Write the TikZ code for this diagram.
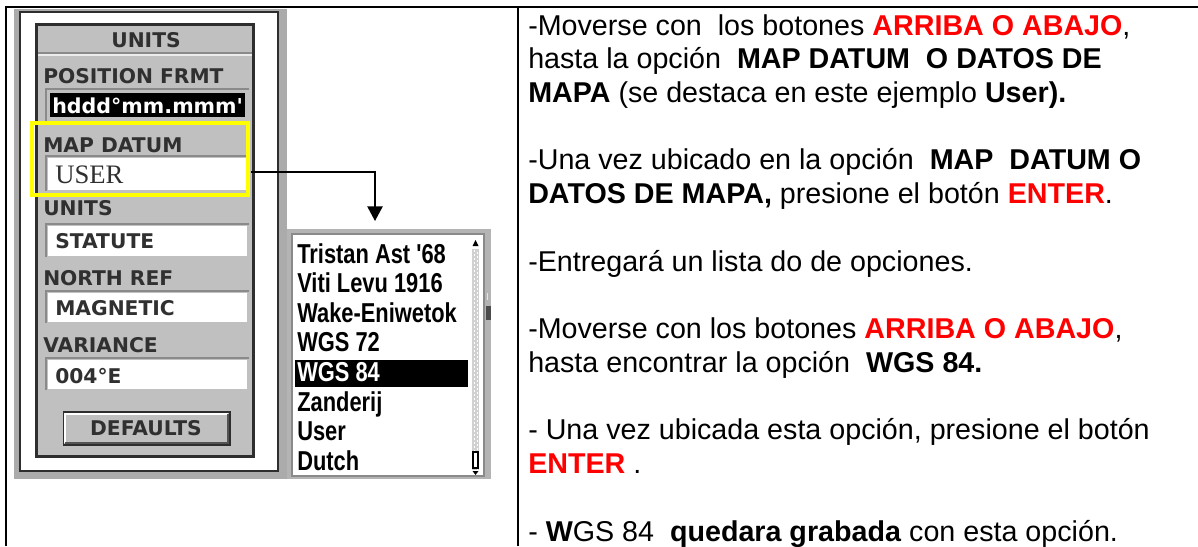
\documentclass[tikz,border=0pt]{standalone}
\usepackage{fontspec}
\setmainfont{Liberation Sans}
\newfontfamily\dvs{DejaVu Sans}
\newfontfamily\lserif{Liberation Serif}
\usepackage{graphicx}
\usetikzlibrary{arrows.meta}
\definecolor{outergray}{HTML}{ABABAB}
\definecolor{panelgray}{HTML}{C0C0C0}
\definecolor{darkline}{HTML}{2E2E2E}
\definecolor{labelcol}{HTML}{303030}
\definecolor{bevelgray}{HTML}{8A8A8A}
\definecolor{listgray}{HTML}{B4B4B4}
\definecolor{hiyellow}{HTML}{FFFF00}
\definecolor{pureRed}{HTML}{FF0000}
\begin{document}
\begin{tikzpicture}[x=0.75pt,y=-0.75pt,
  tbl/.style={line width=1.5pt,black},
  lbl/.style={anchor=base west,inner sep=0,text=labelcol,font=\dvs\bfseries\fontsize{15.2pt}{17pt}\selectfont},
  val/.style={anchor=base west,inner sep=0,text=labelcol,font=\dvs\bfseries\fontsize{15.2pt}{17pt}\selectfont},
  fieldbox/.style={fill=white},
  litem/.style={anchor=base west,inner sep=0,font=\bfseries\fontsize{20.5pt}{22pt}\selectfont},
  txt/.style={anchor=base west,inner sep=0,font=\fontsize{21.5pt}{25pt}\selectfont},
  conn/.style={line width=1.1pt,-{Triangle[width=11.5pt,length=11pt]}},
]
\useasboundingbox (0,0) rectangle (1198,546);
% table frame
\draw[tbl] (5,7) -- (1198,7);
\draw[tbl] (6,6) -- (6,546);
\draw[tbl] (518,6) -- (518,546);

% screenshot background
\fill[outergray] (14,9) rectangle (287,479);
\draw[fill=white,draw=darkline,line width=0.8pt] (20,12) rectangle (278,471);
\draw[fill=panelgray,draw=darkline,line width=2.25pt] (36.5,24.5) rectangle (253.5,456.5);

% title
\node[lbl,anchor=base] (title) at (146,47) {UNITS};
\draw[bevelgray,line width=1pt] (38,53) -- (252,53);
\draw[white!85!gray,line width=1pt] (38,55) -- (252,55);

% position format
\node[lbl] (lblpos) at (43,83) {POSITION FRMT};
\draw[bevelgray,line width=1.2pt] (46,121) -- (46,89) -- (249,89);
\fill[black] (50,93) rectangle (245,117);
\node[anchor=base west,inner sep=0,text=white,font=\dvs\bfseries\fontsize{14pt}{16pt}\selectfont] (posval) at (52,113) {\resizebox{143pt}{!}{hddd°mm.mmm\textquotesingle}};

% map datum
\node[lbl] (lbldatum) at (43,152) {MAP DATUM};
\draw[bevelgray,line width=1.2pt] (46,191) -- (46,156) -- (249,156);
\fill[fieldbox] (48,158) rectangle (247,190);
\node[anchor=base west,inner sep=0,text=labelcol,font=\lserif\fontsize{20pt}{22pt}\selectfont] (datumval) at (55,183) {USER};
\node[draw=hiyellow,line width=2.4pt,minimum width=162pt,minimum height=54pt,inner sep=0] (datumbox) at (140,159) {};

% units
\node[lbl] (lblunits) at (43,215) {UNITS};
\draw[bevelgray,line width=1.2pt] (46,257) -- (46,224) -- (249,224);
\fill[fieldbox] (48,226) rectangle (247,256);
\node[val] (unitsval) at (55,248) {STATUTE};

% north ref
\node[lbl] (lblnorth) at (43,285) {NORTH REF};
\draw[bevelgray,line width=1.2pt] (46,323) -- (46,291) -- (249,291);
\fill[fieldbox] (48,293) rectangle (247,322);
\node[val] (northval) at (55,315) {MAGNETIC};

% variance
\node[lbl] (lblvar) at (43,352) {VARIANCE};
\draw[bevelgray,line width=1.2pt] (46,390) -- (46,358) -- (249,358);
\fill[fieldbox] (48,360) rectangle (247,389);
\node[val] (varval) at (55,383) {004°E};

% defaults button
\node[draw=darkline,line width=1pt,fill=panelgray,minimum width=125pt,minimum height=24.75pt,inner sep=0] (defaults) at (146.5,428.5) {};
\draw[white,line width=1.5pt] (65,443) -- (65,414) -- (228,414);
\draw[bevelgray!60!black,line width=1.5pt] (65,443) -- (228,443) -- (228,414);
\node[lbl,anchor=base] (deftext) at (146,435) {DEFAULTS};

% list panel
\fill[listgray] (287,229) rectangle (491,479);
\draw[bevelgray,line width=0.8pt,fill=white] (292,234) rectangle (484,476);
\fill[black!70] (486,306) rectangle (491,320);
\draw[white!80!gray,line width=0.6pt] (487,293) -- (487,300);
% scrollbar
\fill[black!18] (472,249) rectangle (479,470);
\foreach \yy in {250,254,...,468} {\fill[white] (473.5,\yy) rectangle (475,\yy+1.5); \fill[white] (476.5,\yy+2) rectangle (478,\yy+3.5);}
\fill[black] (475.5,240) -- (478.5,246) -- (472.5,246) -- cycle;
\draw[black,line width=0.8pt,fill=white] (473,452) rectangle (478,468);
\fill[black] (472.5,471) -- (478.5,471) -- (475.5,475) -- cycle;
% highlight
\fill[black] (295,360) rectangle (468,387);
\node[litem] (li1) at (297,263) {\scalebox{0.8}[1]{Tristan Ast \textquotesingle68}};
\node[litem] (li2) at (297,292.6) {\scalebox{0.8}[1]{Viti Levu 1916}};
\node[litem] (li3) at (297,322.2) {\scalebox{0.8}[1]{Wake-Eniwetok}};
\node[litem] (li4) at (297,351.8) {\scalebox{0.8}[1]{WGS 72}};
\node[litem,text=white] (li5) at (297,381.4) {\scalebox{0.8}[1]{WGS 84}};
\node[litem] (li6) at (297,411) {\scalebox{0.8}[1]{Zanderij}};
\node[litem] (li7) at (297,440.6) {\scalebox{0.8}[1]{User}};
\node[litem] (li8) at (297,470.2) {\scalebox{0.8}[1]{Dutch}};

% connector
\coordinate (cstart) at (250.5,172);
\coordinate (aend) at (375,221);
\draw[conn] (cstart) -| (aend);

% right column text
\node[txt] (t0) at (528,35) {-Moverse con~ los botones \textcolor{pureRed}{\bfseries ARRIBA O ABAJO},};
\node[txt] (t1) at (528,68.7) {hasta la opción~ \textbf{MAP DATUM~ O DATOS DE}};
\node[txt] (t2) at (528,102.5) {\textbf{MAPA} (se destaca en este ejemplo \textbf{User).}};
\node[txt] (t4) at (528,169.9) {-Una vez ubicado en la opción~ \textbf{MAP~ DATUM O}};
\node[txt] (t5) at (528,203.7) {\textbf{DATOS DE MAPA,} presione el botón \textcolor{pureRed}{\textbf{ENTER}}.};
\node[txt] (t7) at (528,271.1) {-Entregará un lista do de opciones.};
\node[txt] (t9) at (528,338.6) {-Moverse con los botones \textcolor{pureRed}{\textbf{ARRIBA O ABAJO}},};
\node[txt] (t10) at (528,372.3) {hasta encontrar la opción~ \textbf{WGS 84.}};
\node[txt] (t12) at (528,439.8) {- Una vez ubicada esta opción, presione el botón};
\node[txt] (t13) at (528,473.5) {\textcolor{pureRed}{\textbf{ENTER}} .};
\node[txt] (t15) at (528,541) {- \textbf{W}GS 84~ \textbf{quedara grabada} con esta opción.};
\end{tikzpicture}
\end{document}
